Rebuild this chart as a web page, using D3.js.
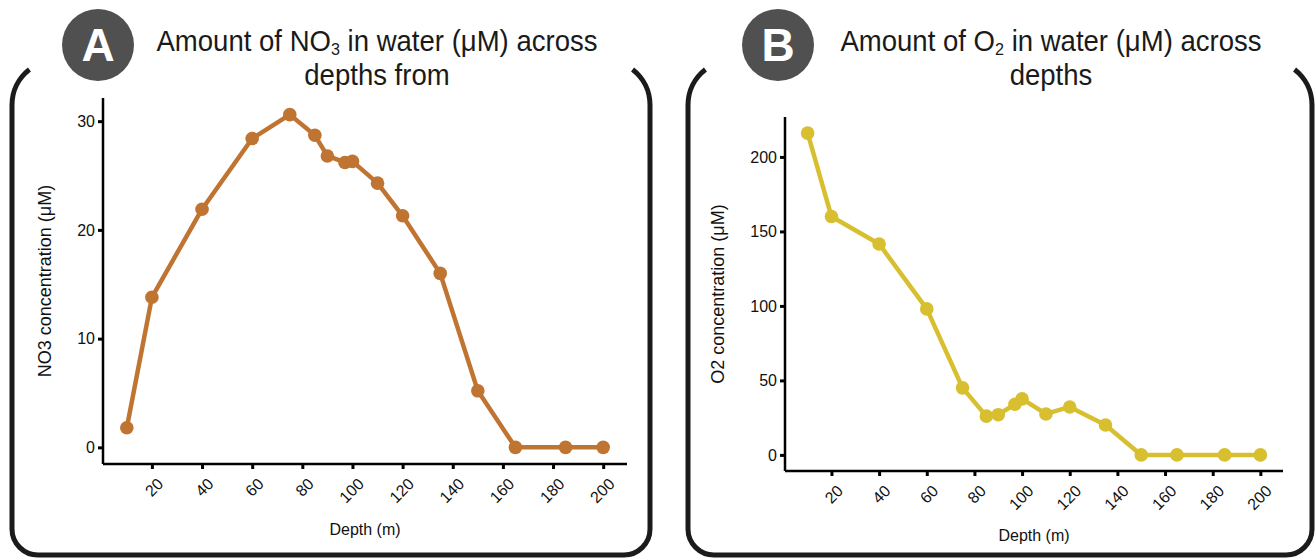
<!DOCTYPE html>
<html>
<head>
<meta charset="utf-8">
<script src="https://cdn.jsdelivr.net/npm/d3@7"></script>
<style>
  html, body { margin: 0; padding: 0; background: #fff; }
  svg { display: block; }
</style>
</head>
<body>
<svg id="grafico" width="1315" height="558"></svg>
<script>
// dados
const depths = [10, 20, 40, 60, 75, 85, 90, 97, 100, 110, 120, 135, 150, 165, 185, 200];
const no3Values = [1.8, 13.8, 21.9, 28.4, 30.6, 28.7, 26.8, 26.2, 26.3, 24.3, 21.3, 16.0, 5.2, 0, 0, 0];
const o2Values = [216, 160, 141.6, 98, 45, 26, 27, 34, 37.6, 27.5, 32.2, 20.1, 0, 0, 0, 0];
const depthTicks = [20, 40, 60, 80, 100, 120, 140, 160, 180, 200];
const no3Ticks = [0, 10, 20, 30];
const o2Ticks = [0, 50, 100, 150, 200];

const svg = d3.select('#grafico');

// expande o dominio como o ggplot (5%)
function expandir(ext) {
    let d = (ext[1] - ext[0]) * 0.05;
    return [ext[0] - d, ext[1] + d];
}

function criarPainel(cfg) {
    let g = svg.append('g');

    // -- moldura arredondada (o topo fica aberto) -------------------
    let R = 45, r = 26, a0 = Math.PI, a1 = Math.PI * 1.29;
    let cxL = cfg.box.left + R, cxR = cfg.box.right - R, cy = cfg.box.top + R;
    let p = d3.path();
    p.moveTo(cxL + R * Math.cos(a1), cy + R * Math.sin(a1));
    p.arc(cxL, cy, R, a1, a0, true);
    p.lineTo(cfg.box.left, cfg.box.bottom - r);
    p.arcTo(cfg.box.left, cfg.box.bottom, cfg.box.left + r, cfg.box.bottom, r);
    p.lineTo(cfg.box.right - r, cfg.box.bottom);
    p.arcTo(cfg.box.right, cfg.box.bottom, cfg.box.right, cfg.box.bottom - r, r);
    p.lineTo(cfg.box.right, cy);
    p.arc(cxR, cy, R, 0, -Math.PI * 0.29, true);
    g.append('path')
        .attr('d', p.toString())
        .attr('fill', 'none')
        .attr('stroke', '#1b1b1b')
        .attr('stroke-width', 5);

    // -- selo com a letra ------------------------------------------
    g.append('circle')
        .attr('cx', cfg.badge[0]).attr('cy', cfg.badge[1]).attr('r', 36)
        .attr('fill', '#505050');
    g.append('text')
        .attr('x', cfg.badge[0]).attr('y', cfg.badge[1] + 16)
        .attr('text-anchor', 'middle')
        .style('font-family', 'Liberation Sans, Arial, sans-serif')
        .style('font-weight', 'bold')
        .style('font-size', '46px')
        .attr('fill', '#fff')
        .text(cfg.letter);

    // -- titulo (fonte levemente estreitada) -------------------------
    let tg = g.append('g')
        .attr('transform', 'translate(' + cfg.titleX + ',0) scale(0.95,1)')
        .style('font-family', 'Liberation Sans, Arial, sans-serif')
        .style('font-size', '29px')
        .attr('fill', '#1a1a1a')
        .attr('text-anchor', 'middle');
    let t1 = tg.append('text').attr('x', 0).attr('y', 51);
    t1.append('tspan').text('Amount of ' + cfg.chem);
    t1.append('tspan').attr('dy', 4).style('font-size', '17px').text(cfg.sub);
    t1.append('tspan').attr('dy', -4).text(' in water (\u03bcM) across');
    tg.append('text').attr('x', 0).attr('y', 85).text(cfg.title2);

    // -- escalas -----------------------------------------------------
    let x = d3.scaleLinear()
        .domain(expandir(d3.extent(depths)))
        .range([cfg.plot.left, cfg.plot.right]);
    let y = d3.scaleLinear()
        .domain(expandir(d3.extent(cfg.values)))
        .range([cfg.plot.bottom, cfg.plot.top]);

    // eixo Y
    let gy = g.append('g')
        .attr('transform', 'translate(' + cfg.plot.left + ',0)')
        .call(d3.axisLeft(y).tickValues(cfg.yTicks).tickSize(5).tickPadding(3).tickSizeOuter(0));
    // eixo X
    let gx = g.append('g')
        .attr('transform', 'translate(0,' + cfg.plot.bottom + ')')
        .call(d3.axisBottom(x).tickValues(depthTicks).tickSize(5).tickSizeOuter(0));

    [gx, gy].forEach(function(ax) {
        ax.select('.domain').attr('stroke', '#000').attr('stroke-width', 2.5);
        ax.selectAll('.tick line').attr('stroke', '#000').attr('stroke-width', 3);
        ax.selectAll('.tick text')
            .attr('fill', '#111')
            .style('font-family', 'Liberation Sans, Arial, sans-serif')
            .style('font-size', '16px');
    });
    gy.select('.domain').attr('d', 'M0,' + cfg.plot.bottom + 'V' + cfg.plot.top);
    gx.select('.domain').attr('d', 'M' + cfg.plot.left + ',0H' + cfg.plot.right);
    gx.selectAll('.tick text')
        .attr('text-anchor', 'end')
        .attr('x', 0).attr('y', 0).attr('dy', 0)
        .attr('transform', 'translate(12,21) rotate(-45)');

    // titulos dos eixos
    g.append('text')
        .attr('transform', 'translate(' + cfg.yTitle[0] + ',' + cfg.yTitle[1] + ') rotate(-90)')
        .attr('text-anchor', 'middle')
        .attr('dy', '0.35em')
        .style('font-family', 'Liberation Sans, Arial, sans-serif')
        .style('font-size', '18px')
        .attr('fill', '#111')
        .text(cfg.yLabel);
    g.append('text')
        .attr('x', (cfg.plot.left + cfg.plot.right) / 2)
        .attr('y', cfg.xTitleY)
        .attr('text-anchor', 'middle')
        .style('font-family', 'Liberation Sans, Arial, sans-serif')
        .style('font-size', '16px')
        .attr('fill', '#111')
        .text('Depth (m)');

    // -- linha e pontos ----------------------------------------------
    let pontos = depths.map(function(d, i) { return {depth: d, value: cfg.values[i]}; });
    let line = d3.line()
        .x(function(d) { return x(d.depth); })
        .y(function(d) { return y(d.value); });
    g.append('path')
        .attr('d', line(pontos))
        .attr('fill', 'none')
        .attr('stroke', cfg.color)
        .attr('stroke-width', 4.5)
        .attr('stroke-linejoin', 'round');
    g.selectAll('.dot')
        .data(pontos)
        .enter()
        .append('circle')
        .attr('cx', function(d) { return x(d.depth); })
        .attr('cy', function(d) { return y(d.value); })
        .attr('r', 6.8)
        .attr('fill', cfg.color);
}

criarPainel({
    letter: 'A', badge: [98, 45],
    chem: 'NO', sub: '3', title2: 'depths from', titleX: 377,
    box: {left: 12, right: 650, top: 60, bottom: 555},
    plot: {left: 103, right: 627, top: 98, bottom: 464},
    values: no3Values, yTicks: no3Ticks, color: '#c07432',
    yLabel: 'NO3 concentration (\u03bcM)', yTitle: [45, 281], xTitleY: 535
});

criarPainel({
    letter: 'B', badge: [778, 45],
    chem: 'O', sub: '2', title2: 'depths', titleX: 1051,
    box: {left: 688, right: 1312, top: 60, bottom: 555},
    plot: {left: 785, right: 1283, top: 117, bottom: 471},
    values: o2Values, yTicks: o2Ticks, color: '#d8bf30',
    yLabel: 'O2 concentration (\u03bcM)', yTitle: [718, 294], xTitleY: 541
});
</script>
</body>
</html>
